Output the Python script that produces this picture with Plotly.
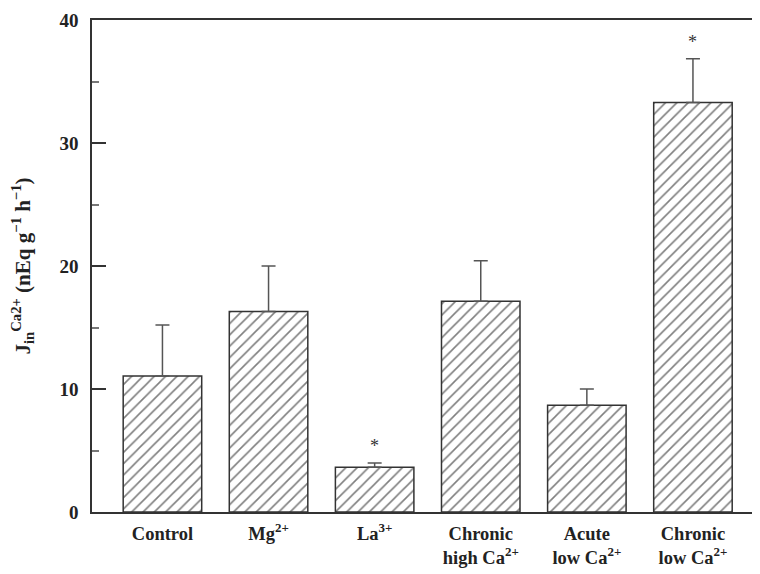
import plotly.graph_objects as go

categories = ["Control", "Mg<sup>2+</sup>", "La<sup>3+</sup>",
              "Chronic<br>high Ca<sup>2+</sup>", "Acute<br>low Ca<sup>2+</sup>",
              "Chronic<br>low Ca<sup>2+</sup>"]
means = [11.05, 16.3, 3.63, 17.13, 8.67, 33.3]
errors = [4.15, 3.7, 0.35, 3.3, 1.33, 3.55]
significant = [False, False, True, False, False, True]
y_ticks = [0, 10, 20, 30, 40]

FONT = "Liberation Serif"

fig = go.Figure()
fig.add_trace(go.Bar(
    x=list(range(len(categories))),
    y=means,
    width=0.74,
    marker=dict(
        color="white",
        line=dict(color="#333333", width=1.5),
        pattern=dict(shape="/", fgcolor="#000000", bgcolor="white",
                     size=8, solidity=0.2, fillmode="overlay"),
    ),
    error_y=dict(type="data", array=errors, arrayminus=[0] * len(errors),
                 symmetric=False, color="#555555", thickness=1.5, width=7),
    showlegend=False,
))

for i, (m, e, s) in enumerate(zip(means, errors, significant)):
    if s:
        fig.add_annotation(x=i, y=m + e, text="*", showarrow=False,
                           yshift=17, font=dict(family=FONT, size=18, color="#333"))

fig.update_layout(
    width=752, height=566,
    margin=dict(l=84, r=0, t=12, b=62, autoexpand=False),
    plot_bgcolor="white", paper_bgcolor="white",
    font=dict(family=FONT, size=18, color="#222"),
    xaxis=dict(
        range=[-0.664, 5.632], automargin=False,
        tickmode="array", tickvals=list(range(len(categories))), ticktext=categories,
        showline=True, linecolor="#333", linewidth=1.5, mirror=True,
        ticks="", showgrid=False, zeroline=False, ticklabelstandoff=4,
        tickfont=dict(family=FONT, size=18.5, color="#222", weight="bold"),
    ),
    yaxis=dict(
        range=[0, 40], automargin=False,
        tickmode="array", tickvals=y_ticks, ticktext=[str(t) for t in y_ticks],
        showline=True, linecolor="#333", linewidth=1.5,
        ticks="inside", ticklen=14, tickwidth=1.5, tickcolor="#333",
        minor=dict(ticks="inside", ticklen=7, tickwidth=1.5, tickcolor="#777",
                   tickvals=[5, 15, 25, 35]),
        showgrid=False, zeroline=False,
        ticklabelstandoff=8,
        tickfont=dict(family=FONT, size=19, color="#222", weight="bold"),
        title=dict(text="J<sub>in</sub><sup>Ca2+</sup> (nEq g<sup>−1</sup> h<sup>−1</sup>)",
                   font=dict(family=FONT, size=21, color="#222", weight="bold"),
                   standoff=28),
    ),
)

fig.write_html("out.html")
